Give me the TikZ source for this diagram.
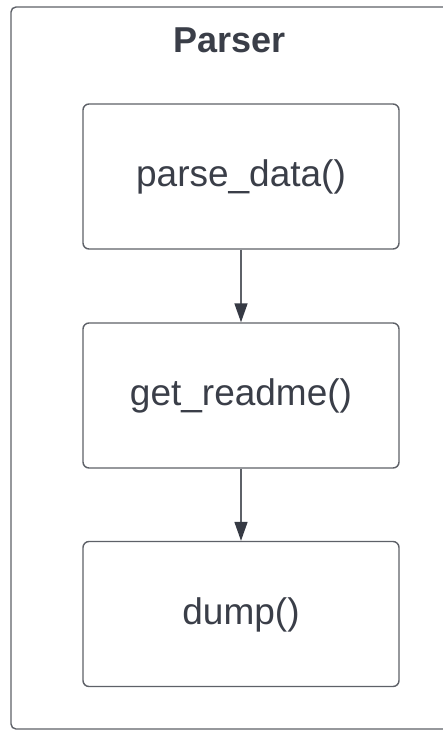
\documentclass[tikz,border=0pt]{standalone}
\usepackage{fontspec}
\setmainfont{Liberation Sans}
\usetikzlibrary{arrows.meta}
\definecolor{linegray}{HTML}{5E6168}
\definecolor{textdark}{HTML}{3A3E48}
\definecolor{tipdark}{HTML}{363A44}
\tikzset{
  funcbox/.style={draw=linegray, line width=1.4pt, rounded corners=6pt,
    minimum width=316pt, minimum height=145pt, inner sep=0pt,
    text height=27pt, text depth=7pt, text=textdark,
    font=\fontsize{37}{44}\selectfont},
  flow/.style={draw=linegray, line width=1.6pt,
    -{Triangle[length=19pt, width=13pt, fill=tipdark, color=tipdark]}},
  frame/.style={draw=linegray, line width=1.4pt, rounded corners=5pt}
}
\begin{document}
\begin{tikzpicture}[x=1pt, y=-1pt]
\useasboundingbox (0,0) rectangle (443,732);
\fill[white] (0,0) rectangle (443,732);
\clip (0,0) rectangle (443,732);
\draw[frame] (11,7) rectangle (460,729);
\node[anchor=base, text=textdark, font=\bfseries\fontsize{36}{42}\selectfont] (title) at (229.5,52) {Parser};
\node[funcbox] (n1) at (241,176.5) {parse\_data()};
\node[funcbox] (n2) at (241,395.5) {get\_readme()};
\node[funcbox] (n3) at (241,614) {dump()};
\draw[flow] (n1) -- (n2);
\draw[flow] (n2) -- (n3);
\end{tikzpicture}
\end{document}
